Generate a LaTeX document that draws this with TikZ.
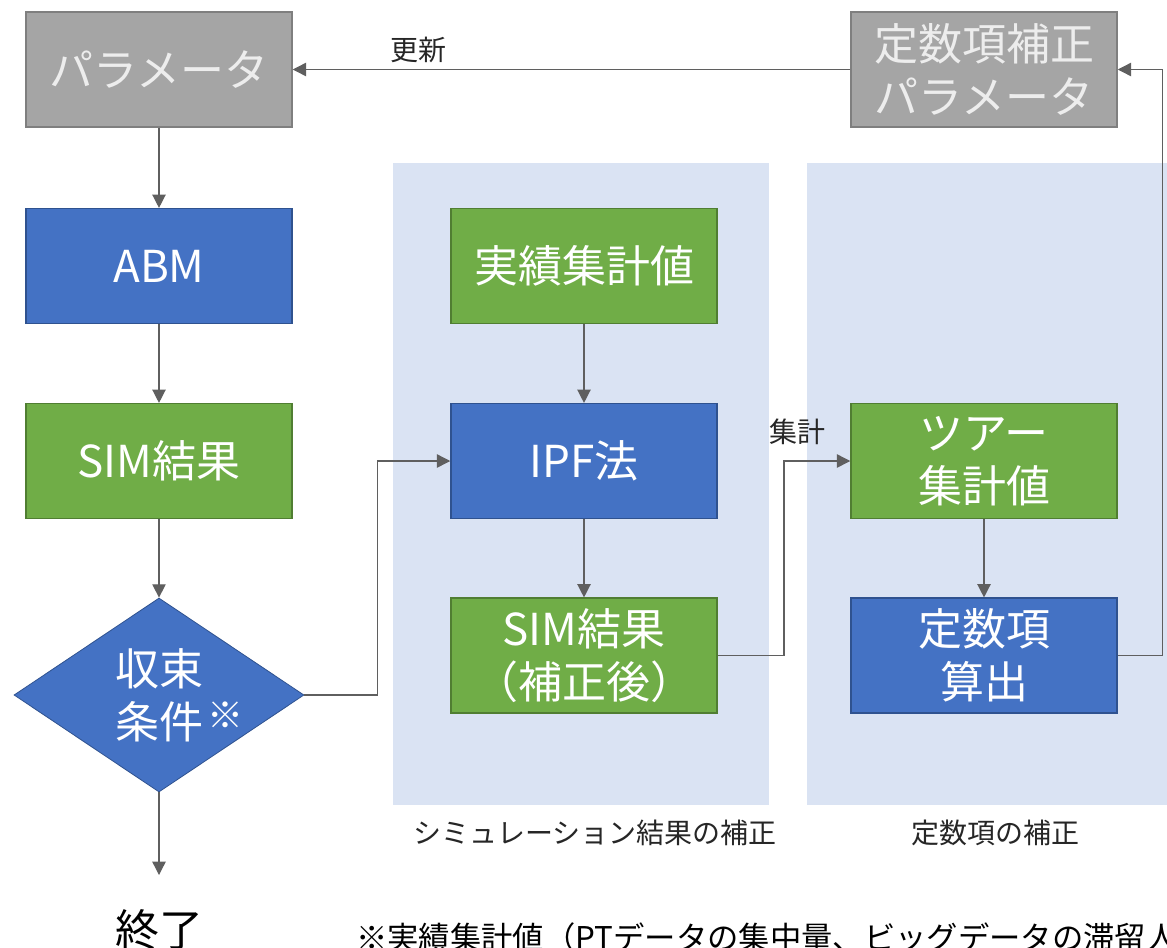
\documentclass[tikz,border=0pt]{standalone}
\usepackage{fontspec}
\setmainfont{Noto Sans CJK JP}
\usetikzlibrary{shapes.geometric,arrows.meta,calc}
\definecolor{gfill}{HTML}{A5A5A5}
\definecolor{gline}{HTML}{7F7F7F}
\definecolor{bfill}{HTML}{4472C4}
\definecolor{bline}{HTML}{2F528F}
\definecolor{grfill}{HTML}{70AD47}
\definecolor{grline}{HTML}{507E32}
\definecolor{panel}{HTML}{DAE3F3}
\definecolor{conn}{HTML}{5F5F5F}
\tikzset{
  boxbase/.style={rectangle, minimum width=199.5pt, minimum height=86pt, inner sep=0pt, line width=1.1pt, text=white, font=\fontsize{33}{40}\selectfont, align=center},
  graybox/.style={boxbase, fill=gfill, draw=gline, text=white!93!black},
  bluebox/.style={boxbase, fill=bfill, draw=bline},
  greenbox/.style={boxbase, fill=grfill, draw=grline},
  decide/.style={diamond, fill=bfill, draw=bline, line width=0.6pt, minimum width=217.5pt, minimum height=145.5pt, inner sep=0pt, text=white, font=\fontsize{33}{40}\selectfont, align=left},
  conn/.style={draw=conn, line width=1pt, -{Triangle[length=10pt,width=10pt]}},
  lbl/.style={font=\fontsize{21}{24}\selectfont, text=black!85},
}
\begin{document}
\begin{tikzpicture}[x=0.75pt,y=-0.75pt]
\useasboundingbox (0,0) rectangle (1167,947);
% panels
\fill[panel] (393,163) rectangle (769,805);
\fill[panel] (807,163) rectangle (1167,805);
% nodes
\node[graybox] (param) at (159,69.5) {パラメータ};
\node[graybox] (cparam) at (984,69.5) {定数項補正\\パラメータ};
\node[bluebox] (abm) at (159,266) {ABM};
\node[greenbox] (sim) at (159,461) {SIM結果};
\node[decide] (conv) at (159,695) {収束\\条件\rlap{\hspace{0.1em}\raisebox{0.22em}{\fontsize{27}{30}\selectfont ※}}};
\node[greenbox] (actual) at (584,266) {実績集計値};
\node[bluebox] (ipf) at (584,461) {IPF法};
\node[greenbox] (simc) at (584,655.5) {SIM結果\\（補正後）};
\node[greenbox] (tour) at (984,461) {ツアー\\集計値};
\node[bluebox] (calc) at (984,655.5) {定数項\\算出};
\coordinate (endpt) at (159,875);
\node[font=\fontsize{33}{40}\selectfont] (fin) at (159,930) {終了};
% labels
\node[lbl] (lupd) at (418,50) {更新};
\node[lbl] (lagg) at (797,432) {集計};
\node[lbl] (lp1) at (595,833) {シミュレーション結果の補正};
\node[lbl] (lp2) at (995,833) {定数項の補正};
\node[font=\fontsize{23.5}{28}\selectfont, anchor=west, inner sep=0pt] (note) at (356,938) {※実績集計値（PTデータの集中量、ビッグデータの滞留人};
% connectors
\draw[conn] (cparam.west) -- (param.east);
\draw[conn] (param.south) -- (abm.north);
\draw[conn] (abm.south) -- (sim.north);
\draw[conn] (sim.south) -- (conv.north);
\draw[conn] (conv.south) -- (endpt);
\draw[conn] (conv.east) -| ($(conv.east)!0.5!(ipf.west)$) |- (ipf.west);
\draw[conn] (actual.south) -- (ipf.north);
\draw[conn] (ipf.south) -- (simc.north);
\draw[conn] (simc.east) -| ($(simc.east)!0.5!(tour.west)$) |- (tour.west);
\draw[conn] (tour.south) -- (calc.north);
\draw[conn] (calc.east) -- ++(45,0) |- (cparam.east);
\end{tikzpicture}
\end{document}
